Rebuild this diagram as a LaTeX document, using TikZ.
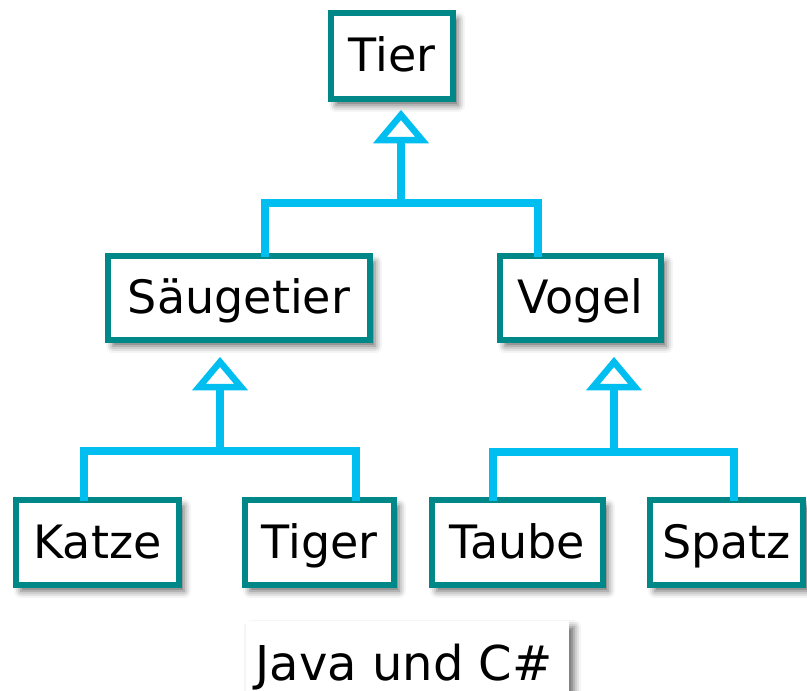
\documentclass[tikz,border=0pt]{standalone}
\usepackage{fontspec}
\setmainfont{DejaVu Sans}
\usetikzlibrary{shadows.blur}
\definecolor{boxteal}{RGB}{0,135,135}
\definecolor{linkcyan}{RGB}{0,190,240}

\begin{document}
\begin{tikzpicture}[x=1pt,y=-1pt,
  softshadow/.style={blur shadow={shadow xshift=5pt, shadow yshift=-6pt,
      shadow blur radius=7pt, shadow opacity=60}},
  cls/.style={draw=boxteal, line width=6pt, fill=white, inner sep=0pt,
      font=\fontsize{46}{50}\selectfont, text height=34pt, text depth=3pt,
      softshadow},
  bus/.style={draw=linkcyan, line width=7.5pt},
  tri/.style={draw=linkcyan, line width=6.5pt, fill=white, line join=miter,
      miter limit=10}
]
\useasboundingbox (0,0) rectangle (807,691);

% class boxes
\node[cls, minimum width=122pt, minimum height=86pt] (tier)  at (392,56)    {Tier};
\node[cls, minimum width=262pt, minimum height=84pt] (saeug) at (239,298)   {Säugetier};
\node[cls, minimum width=161pt, minimum height=84pt] (vogel) at (580.5,298) {Vogel};
\node[cls, minimum width=163pt, minimum height=85pt] (katze) at (97.5,542.5)  {Katze};
\node[cls, minimum width=149pt, minimum height=85pt] (tiger) at (319.5,542.5) {Tiger};
\node[cls, minimum width=171pt, minimum height=85pt] (taube) at (517.5,542.5) {Taube};
\node[cls, minimum width=153pt, minimum height=85pt] (spatz) at (726.5,542.5) {Spatz};

% caption
\node[fill=white, inner sep=0pt, minimum width=323pt, minimum height=84pt,
      softshadow, anchor=north] (lang) at (407.5,621) {};
\node[font=\fontsize{48}{52}\selectfont, anchor=base] (langtext) at (404,680) {Java und C\#};

% inheritance: Tier <- Saeugetier, Vogel
\coordinate (a1) at (401,115);
\coordinate (j1) at (401,203);
\coordinate (d1) at (265,0);
\coordinate (d2) at (538,0);
\draw[bus, shorten <=-4pt, shorten >=-4pt]
  (saeug.north -| d1) |- (j1) -| (vogel.north -| d2);
\draw[bus] (j1) -- ([yshift=-25pt]a1);
\draw[tri] (a1) -- ++(-21,25) -- ++(42,0) -- cycle;

% inheritance: Saeugetier <- Katze, Tiger
\coordinate (a2) at (220,362);
\coordinate (j2) at (220,451);
\coordinate (d3) at (84,0);
\coordinate (d4) at (356,0);
\draw[bus, shorten <=-4pt, shorten >=-4pt]
  (katze.north -| d3) |- (j2) -| (tiger.north -| d4);
\draw[bus] (j2) -- ([yshift=-25pt]a2);
\draw[tri] (a2) -- ++(-21,25) -- ++(42,0) -- cycle;

% inheritance: Vogel <- Taube, Spatz
\coordinate (a3) at (614,362);
\coordinate (j3) at (614,452);
\coordinate (d5) at (493,0);
\coordinate (d6) at (734,0);
\draw[bus, shorten <=-4pt, shorten >=-4pt]
  (taube.north -| d5) |- (j3) -| (spatz.north -| d6);
\draw[bus] (j3) -- ([yshift=-25pt]a3);
\draw[tri] (a3) -- ++(-21,25) -- ++(42,0) -- cycle;
\end{tikzpicture}
\end{document}
